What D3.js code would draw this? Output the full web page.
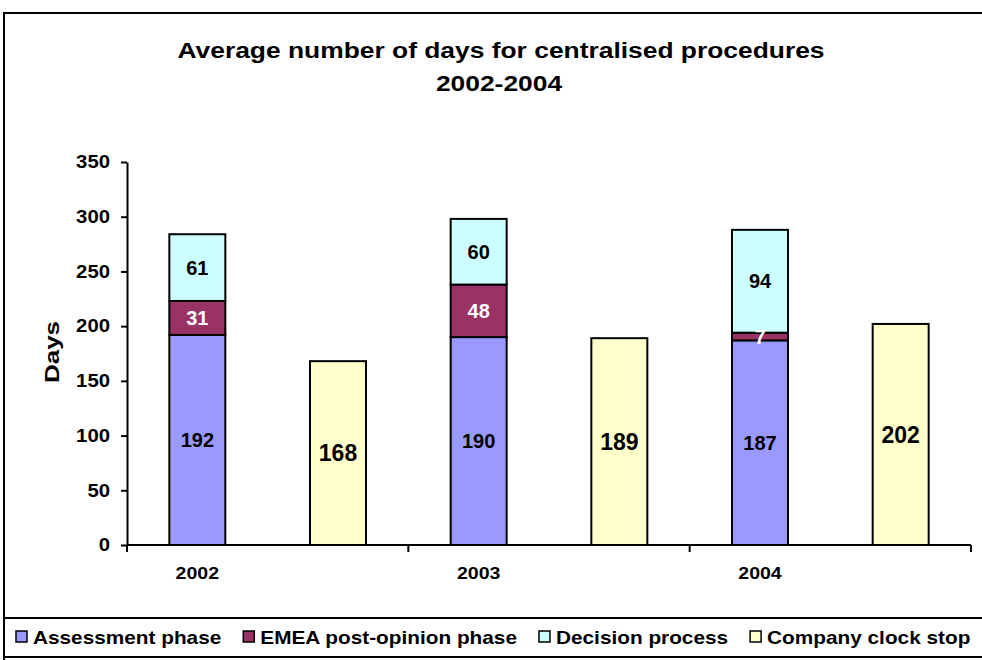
<!DOCTYPE html>
<html><head><meta charset="utf-8">
<script src="https://cdn.jsdelivr.net/npm/d3@7"></script>
<style>
html,body{margin:0;padding:0;background:#fff;}
svg{display:block;font-family:"Liberation Sans",Arial,sans-serif;font-weight:bold;}
</style></head>
<body>
<svg id="chart" width="982" height="660"></svg>
<script>
const years = ["2002", "2003", "2004"];
const assessment = [192, 190, 187];
const emeaPost = [31, 48, 7];
const decision = [61, 60, 94];
const clockStop = [168, 189, 202];
const seriesNames = ["Assessment phase", "EMEA post-opinion phase", "Decision process", "Company clock stop"];
const seriesColors = ["#9999FF", "#993366", "#CCFFFF", "#FFFFCC"];
const labelColors = ["#000", "#fff", "#000", "#000"];
const yTicks = [0, 50, 100, 150, 200, 250, 300, 350];
const titleLines = ["Average number of days for centralised procedures", "2002-2004"];
const yTitle = "Days";

const svg = d3.select("#chart");
const plot = {left: 127, right: 971, top: 162, bottom: 545};

// stretched text helper
function stext(parent, x, y, str, size, sx, anchor, fill) {
  const g = parent.append("g").attr("transform", `translate(${x},${y}) scale(${sx},1)`);
  g.append("text").attr("text-anchor", anchor || "middle").attr("font-size", size)
    .attr("fill", fill || "#000").text(str);
  return g;
}

// outer frame
svg.append("rect").attr("x", 4).attr("y", 13).attr("width", 1000).attr("height", 700)
  .attr("fill", "#fff").attr("stroke", "#000").attr("stroke-width", 2);

// title
stext(svg, 501, 58, titleLines[0], 22, 1.2);
stext(svg, 499, 91, titleLines[1], 22, 1.2);

const y = d3.scaleLinear().domain([0, 350]).range([plot.bottom, plot.top]);
const x0 = d3.scaleBand().domain(years).range([plot.left, plot.right]).padding(0);
const x1 = d3.scaleBand().domain(["stack", "clock"]).range([0, x0.bandwidth()])
  .paddingInner(0.602).paddingOuter(0.301);
const bw = x1.bandwidth();

// y axis
const yAxis = svg.append("g").attr("transform", `translate(${plot.left},0)`)
  .call(d3.axisLeft(y).tickValues(yTicks).tickSize(6).tickPadding(0).tickSizeOuter(0));
yAxis.select(".domain").attr("stroke", "#000").attr("stroke-width", 2);
yAxis.selectAll(".tick line").attr("stroke", "#000").attr("stroke-width", 2);
yAxis.selectAll(".tick text").attr("font-size", 18).attr("font-family", "Liberation Sans, Arial, sans-serif")
  .attr("font-weight", "bold").attr("fill", "#000")
  .attr("x", -17 / 1.13).attr("transform", "scale(1.13,1)");

// y title
svg.append("g").attr("transform", `translate(59,352) rotate(-90) scale(1.3,1)`)
  .append("text").attr("text-anchor", "middle").attr("font-size", 20).text(yTitle);

// stacked data
const stackData = years.map((yr, i) => ({year: yr, vals: [assessment[i], emeaPost[i], decision[i]]}));
stackData.forEach((d, i) => {
  let base = 0;
  d.vals.forEach((v, k) => {
    const xx = x0(d.year) + x1("stack");
    svg.append("rect").attr("x", xx).attr("y", y(base + v)).attr("width", bw)
      .attr("height", y(base) - y(base + v)).attr("fill", seriesColors[k])
      .attr("stroke", "#000").attr("stroke-width", 2);
    d._labels = d._labels || [];
    d._labels.push({x: xx + bw / 2, y: (y(base) + y(base + v)) / 2, v: v, k: k});
    base += v;
  });
});
// clock stop bars
years.forEach((yr, i) => {
  const xx = x0(yr) + x1("clock");
  svg.append("rect").attr("x", xx).attr("y", y(clockStop[i])).attr("width", bw)
    .attr("height", y(0) - y(clockStop[i])).attr("fill", seriesColors[3])
    .attr("stroke", "#000").attr("stroke-width", 2);
});
// labels
stackData.forEach(d => {
  d._labels.forEach(l => {
    svg.append("text").attr("x", l.x).attr("y", l.y).attr("dy", "0.36em")
      .attr("text-anchor", "middle").attr("font-size", 20).attr("fill", labelColors[l.k]).text(l.v);
  });
});
years.forEach((yr, i) => {
  const xx = x0(yr) + x1("clock") + bw / 2;
  svg.append("text").attr("x", xx).attr("y", (y(0) + y(clockStop[i])) / 2).attr("dy", "0.36em")
    .attr("text-anchor", "middle").attr("font-size", 23).attr("fill", "#000").text(clockStop[i]);
});

// x axis
svg.append("line").attr("x1", plot.left).attr("x2", plot.right).attr("y1", plot.bottom).attr("y2", plot.bottom)
  .attr("stroke", "#000").attr("stroke-width", 2);
const xTickPos = years.map(yr => x0(yr)).concat([plot.right]);
svg.selectAll(".xt").data(xTickPos).enter().append("line")
  .attr("x1", d => d).attr("x2", d => d).attr("y1", plot.bottom).attr("y2", plot.bottom + 7)
  .attr("stroke", "#000").attr("stroke-width", 2);
years.forEach(yr => {
  stext(svg, x0(yr) + x1("stack") + bw / 2, 579, yr, 17, 1.15);
});

// legend
svg.append("rect").attr("x", 4).attr("y", 618).attr("width", 1000).attr("height", 39)
  .attr("fill", "#fff").attr("stroke", "#000").attr("stroke-width", 2);
let lx = 16;
const lsx = 1.155;
seriesNames.forEach((name, i) => {
  svg.append("rect").attr("x", lx).attr("y", 631).attr("width", 11).attr("height", 11)
    .attr("fill", seriesColors[i]).attr("stroke", "#000").attr("stroke-width", 1.5);
  const g = stext(svg, lx + 17, 644, name, 18, lsx, "start");
  const w = g.select("text").node().getComputedTextLength() * lsx;
  lx += 17 + w + 22;
});
</script>
</body></html>
